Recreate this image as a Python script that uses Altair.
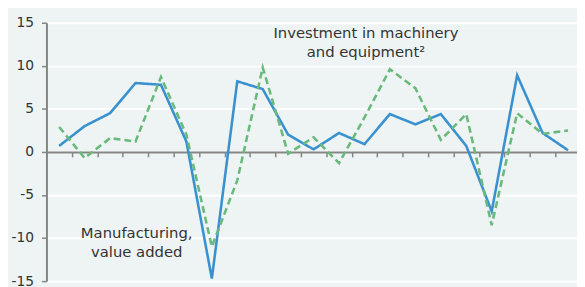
import altair as alt
import pandas as pd

# Data
periods = list(range(21))
manufacturing = [0.7, 3.0, 4.5, 8.0, 7.8, 1.2, -14.7, 8.2, 7.3, 2.0, 0.3, 2.2, 0.9, 4.4, 3.2, 4.4, 0.7, -6.9, 8.9, 2.2, 0.2]
investment = [2.9, -0.7, 1.6, 1.2, 8.7, 2.0, -11.0, -3.3, 9.8, -0.2, 1.7, -1.3, 4.0, 9.6, 7.4, 1.4, 4.4, -8.5, 4.5, 2.1, 2.5]
y_ticks = [-15, -10, -5, 0, 5, 10, 15]
x_ticks = [i - 0.5 for i in range(22)]

BG = "#EEF4F4"
BLUE = "#3A91CF"
GREEN = "#6AB97C"
AXIS = "#858585"
TEXT = "#333333"

df = pd.DataFrame({
    "period": periods + periods,
    "value": manufacturing + investment,
    "series": ["Manufacturing, value added"] * 21 + ["Investment in machinery and equipment"] * 21,
})

PW, PH = 538, 262

x_scale = alt.Scale(domain=[-0.5, -0.5 + PW / 25.8], nice=False, zero=False)
y_scale = alt.Scale(domain=[-15, 15], nice=False)

base = alt.Chart(df)

lines = base.mark_line(strokeWidth=2.6, clip=True).encode(
    x=alt.X("period:Q", scale=x_scale,
            axis=alt.Axis(values=x_ticks, labels=False, title=None, grid=False,
                          domainColor=AXIS, domainWidth=2, tickColor=AXIS, tickWidth=1.5,
                          tickSize=5, offset=-PH / 2, orient="bottom")),
    y=alt.Y("value:Q", scale=y_scale,
            axis=alt.Axis(values=y_ticks, title=None, grid=True, gridColor="white", gridWidth=2,
                          domainColor=AXIS, domainWidth=2, tickColor=AXIS, tickWidth=1.5,
                          tickSize=5, labelPadding=8, labelFont="DejaVu Sans",
                          labelExpr="'' + datum.value",
                          labelFontSize=14, labelColor=TEXT)),
    color=alt.Color("series:N", legend=None,
                    scale=alt.Scale(domain=["Manufacturing, value added", "Investment in machinery and equipment"],
                                    range=[BLUE, GREEN])),
    strokeDash=alt.StrokeDash("series:N", legend=None,
                              scale=alt.Scale(domain=["Manufacturing, value added", "Investment in machinery and equipment"],
                                              range=[[1, 0], [7, 4]])),
)

label_inv = alt.Chart(pd.DataFrame({"t": [0]})).mark_text(
    text=["Investment in machinery", "and equipment²"], align="center", baseline="alphabetic",
    font="DejaVu Sans", fontSize=15, color=TEXT, lineHeight=19.5,
).encode(x=alt.value(324), y=alt.value(15))

label_man = alt.Chart(pd.DataFrame({"t": [0]})).mark_text(
    text=["Manufacturing,", "value added"], align="center", baseline="alphabetic",
    font="DejaVu Sans", fontSize=15, color=TEXT, lineHeight=19,
).encode(x=alt.value(91.5), y=alt.value(218.3))

chart = alt.layer(lines, label_inv, label_man).properties(
    width=PW, height=PH,
    autosize=alt.AutoSizeParams(type="none"),
    padding={"left": 39, "top": 13, "right": 0, "bottom": 4},
    background=BG,
).configure_view(stroke=None, fill=BG)

chart.save("out.html", embed_options={"renderer": "svg", "actions": False})
